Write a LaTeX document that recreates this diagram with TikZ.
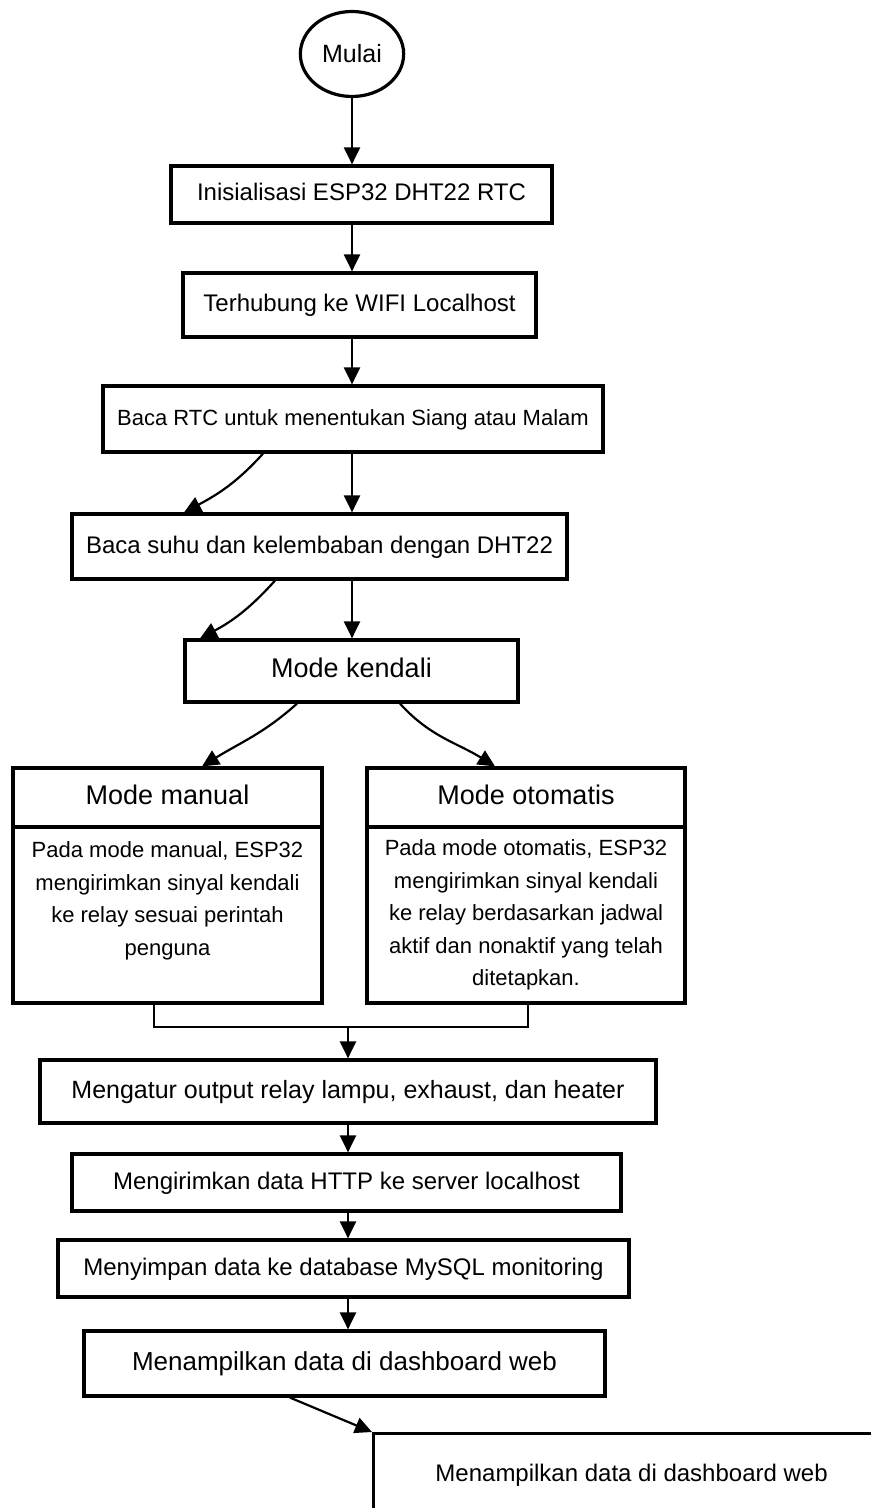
\documentclass[tikz,border=0pt]{standalone}
\usepackage{fontspec}
\setmainfont{Liberation Sans}
\usetikzlibrary{arrows.meta,shapes.geometric}

\tikzset{
  flowbox/.style={draw,line width=1.6pt,fill=white,inner sep=0pt,
    text height=9pt,text depth=2.5pt,font=\fontsize{12}{14}\selectfont},
  bodybox/.style={draw,line width=1.6pt,fill=white,inner sep=0pt,align=center,
    font=\fontsize{11}{16.3}\selectfont},
  headfont/.style={font=\fontsize{13.5}{16}\selectfont},
  link/.style={line width=1.1pt,-{Triangle[width=8pt,length=8.5pt]}},
  joint/.style={line width=1.1pt},
}

\begin{document}
\begin{tikzpicture}[x=.5pt,y=-.5pt]
  \clip (0,0) rectangle (871,1508);
  \fill[white] (0,0) rectangle (871,1508);

  \node[ellipse,draw,line width=1.6pt,minimum width=49.5pt,minimum height=42.5pt,
    font=\fontsize{12.5}{14}\selectfont] (mulai) at (352,54) {Mulai};
  \node[flowbox,minimum width=190.5pt,minimum height=28.5pt] (init) at (361.5,194.5) {Inisialisasi ESP32 DHT22 RTC};
  \node[flowbox,minimum width=176.5pt,minimum height=32pt] (wifi) at (359.5,305) {Terhubung ke WIFI Localhost};
  \node[flowbox,minimum width=250pt,minimum height=33pt,font=\fontsize{11}{13}\selectfont] (rtc) at (353,419) {Baca RTC untuk menentukan Siang atau Malam};
  \node[flowbox,minimum width=247.5pt,minimum height=32.5pt] (dht) at (319.5,546.5) {Baca suhu dan kelembaban dengan DHT22};
  \node[flowbox,headfont,minimum width=166.5pt,minimum height=31pt] (kendali) at (351.5,671) {Mode kendali};

  \node[flowbox,headfont,minimum width=154.5pt,minimum height=29.5pt] (manual) at (167.5,797.5) {Mode manual};
  \node[bodybox,minimum width=154.5pt,minimum height=88pt] (manualtxt) at (167.5,915)
    {Pada mode manual, ESP32\\ mengirimkan sinyal kendali\\ ke relay sesuai perintah\\ penguna\\ \mbox{}};
  \node[flowbox,headfont,minimum width=159pt,minimum height=29.5pt] (otomatis) at (526,797.5) {Mode otomatis};
  \node[bodybox,minimum width=159pt,minimum height=88pt] (otomatistxt) at (526,915)
    {Pada mode otomatis, ESP32\\ mengirimkan sinyal kendali\\ ke relay berdasarkan jadwal\\ aktif dan nonaktif yang telah\\ ditetapkan.};

  \node[flowbox,minimum width=308pt,minimum height=31.5pt,font=\fontsize{12.5}{14}\selectfont] (output) at (348,1091.5) {Mengatur output relay lampu, exhaust, dan heater};
  \node[flowbox,minimum width=274.5pt,minimum height=28.5pt] (http) at (346.5,1182.5) {Mengirimkan data HTTP ke server localhost};
  \node[flowbox,minimum width=285.5pt,minimum height=28.5pt] (mysql) at (343.5,1268.5) {Menyimpan data ke database MySQL monitoring};
  \node[flowbox,minimum width=260.5pt,minimum height=32.5pt,font=\fontsize{13}{15}\selectfont] (dash) at (344.5,1363.5) {Menampilkan data di dashboard web};
  \node[flowbox,anchor=north west,minimum width=258pt,text height=24pt,text depth=40pt] (dashweb) at (372,1432) {Menampilkan data di dashboard web};

  \coordinate (spine) at (352,0);
  \coordinate (spinelow) at (348,0);
  \coordinate (merge) at (348,1027);

  \draw[link] (mulai) -- (spine |- init.north);
  \draw[link] (spine |- init.south) -- (spine |- wifi.north);
  \draw[link] (spine |- wifi.south) -- (spine |- rtc.north);
  \draw[link] (spine |- rtc.south) -- (spine |- dht.north);
  \draw[link] (263,0 |- rtc.south) to[out=-132,in=28] (184,0 |- dht.north);
  \draw[link] (spine |- dht.south) -- (spine |- kendali.north);
  \draw[link] (275,0 |- dht.south) to[out=-132,in=28] (200,0 |- kendali.north);
  \draw[link] (297,0 |- kendali.south) to[out=-138,in=32] (202,0 |- manual.north);
  \draw[link] (400,0 |- kendali.south) to[out=-48,in=148] (495,0 |- otomatis.north);

  \draw[joint] (154,0 |- manualtxt.south) |- (merge) -| (528,0 |- otomatistxt.south);
  \draw[link] (merge) -- (spinelow |- output.north);
  \draw[link] (spinelow |- output.south) -- (spinelow |- http.north);
  \draw[link] (spinelow |- http.south) -- (spinelow |- mysql.north);
  \draw[link] (spinelow |- mysql.south) -- (spinelow |- dash.north);
  \draw[link] (290,0 |- dash.south) -- (dashweb.north west);
\end{tikzpicture}
\end{document}
